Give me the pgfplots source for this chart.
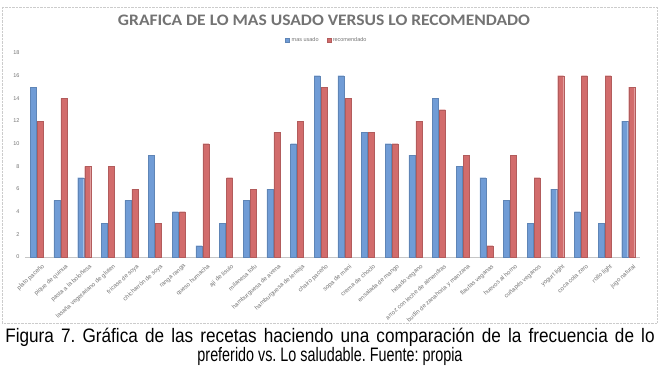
\documentclass[border=0pt]{standalone}
\usepackage{pgfplots}
\pgfplotsset{compat=1.18}
\usepackage{fontspec}
\setmainfont{Liberation Sans}
\newfontfamily\titlefont{Carlito}
\definecolor{cblue}{RGB}{112,156,214}
\definecolor{cred}{RGB}{210,108,108}
\definecolor{cgray}{RGB}{115,115,115}
\frenchspacing
\begin{document}
\begin{tikzpicture}[x=1pt,y=1pt]
\path[use as bounding box] (0,0) rectangle (661,373);
\draw[densely dotted, gray!40] (2,366) rectangle (657,50);
\node[font=\titlefont\bfseries, text=cgray, inner sep=0] at (324,353) {\resizebox{412pt}{10.5pt}{GRAFICA DE LO MAS USADO VERSUS LO RECOMENDADO}};
\begin{axis}[
  at={(25pt,116pt)}, anchor=south west,
  width=615pt, height=204pt, scale only axis,
  ymin=0, ymax=18, xmin=-0.5, xmax=25.5,
  ybar=1pt, bar width=6pt,
  axis line style={draw=none},
  axis x line*=bottom,
  ytick={0,2,...,18},
  ytick style={draw=none}, xtick style={draw=none},
  yticklabel style={font=\fontsize{5.5}{6}\selectfont, text=cgray, xshift=-2pt},
  /pgf/number format/assume math mode=true,
  xtick=data,
  xticklabels={plato paceño, pique de quinua, pasta a la boloñesa, lasaña vegetariano de gluten, fricase de soya, chicharrón de soya, ranga ranga, queso humacha, ají de lisulo, milanesa tofu, hamburguesa de avena, hamburguesa de lenteja, chairo paceño, sopa de maní, crema de choclo, ensalada de mango, helado vegano, arroz con leche de almendras, budín de zanahoria y manzana, flautas veganas, huevos al horno, cuñapés veganos, yogurt light, coca cola zero, rollo light, jugo natural},
  xticklabel style={font=\fontsize{6}{7}\selectfont, text=cgray, rotate=42, anchor=north east, inner sep=1pt, yshift=-4pt, xshift=3pt},
  legend style={at={(0.491,1.064)}, anchor=center, draw=none, fill=none, legend columns=2, font=\fontsize{5.5}{6}\selectfont, text=cgray, /tikz/every even column/.append style={column sep=6pt}, inner sep=0pt},
  legend image code/.code={\fill[#1] (0pt,-2pt) rectangle (4pt,2pt);},
  legend cell align=left,
]
\draw[gray!45, line width=0.6pt] (axis cs:-0.5,0) -- (axis cs:25.5,0);
\addplot[fill=cblue, draw=cblue!85!black, line width=0.2pt] coordinates {
(0,15) (1,5) (2,7) (3,3) (4,5) (5,9) (6,4) (7,1) (8,3) (9,5) (10,6) (11,10) (12,16)
(13,16) (14,11) (15,10) (16,9) (17,14) (18,8) (19,7) (20,5) (21,3) (22,6) (23,4) (24,3) (25,12)};
\addplot[fill=cred, draw=cred!85!black, line width=0.2pt] coordinates {
(0,12) (1,14) (2,8) (3,8) (4,6) (5,3) (6,4) (7,10) (8,7) (9,6) (10,11) (11,12) (12,15)
(13,14) (14,11) (15,10) (16,12) (17,13) (18,9) (19,1) (20,9) (21,7) (22,16) (23,16) (24,16) (25,15)};
\legend{mas usado, recomendado}
\end{axis}
\node[font=\fontsize{19.5}{22}\selectfont, inner sep=0, anchor=base] at (330,31) {\scalebox{0.88}[1]{\makebox[738pt][s]{Figura 7. Gráfica de las recetas haciendo una comparación de la frecuencia de lo}}};
\node[font=\fontsize{19.5}{22}\selectfont, inner sep=0, anchor=base] at (330,12) {\resizebox{265pt}{\height}{preferido vs. Lo saludable. Fuente: propia}};
\end{tikzpicture}
\end{document}
